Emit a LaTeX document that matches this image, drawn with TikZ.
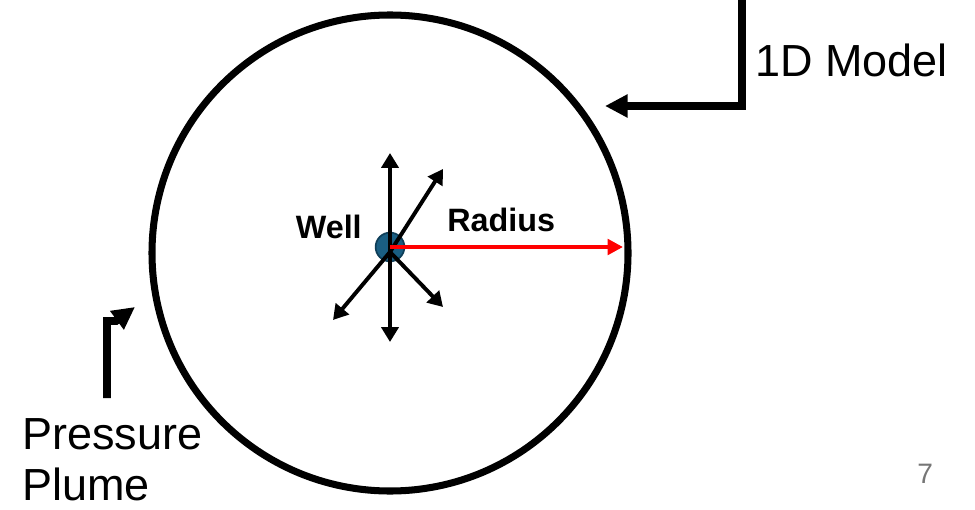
\documentclass[tikz,border=0pt]{standalone}
\usepackage{fontspec}
\setmainfont{Liberation Sans}
\usepackage{tikz}
\usetikzlibrary{arrows.meta, positioning}
\definecolor{wellblue}{RGB}{26, 94, 130}
\definecolor{welledge}{RGB}{14, 62, 88}
\definecolor{radiusred}{RGB}{255, 0, 0}
\definecolor{pagegray}{RGB}{118, 118, 118}

\begin{document}
\begin{tikzpicture}[
    plume/.style={circle, draw=black, line width=5pt, minimum size=11.9cm, inner sep=0pt},
    well/.style={circle, draw=welledge, fill=wellblue, line width=1.2pt, minimum size=0.72cm, inner sep=0pt},
    flow/.style={line width=2.8pt, -{Triangle[length=10.5pt, width=12pt]}},
    reach/.style={draw=radiusred, line width=2.8pt, -{Triangle[length=11pt, width=11pt]}},
    pointer/.style={line width=5.6pt, -{Triangle[length=16pt, width=15.5pt]}},
    caption/.style={font=\fontsize{32}{37}\selectfont, inner sep=0pt},
    tag/.style={font=\fontsize{23}{27}\selectfont\bfseries, inner sep=0pt},
]
    \useasboundingbox (0,0) rectangle (24.375,12.725);

    % Pressure plume outline
    \node[plume] (plume) at (9.75, 6.4) {};

    % Injection well and flow directions
    \node[well] (well) at (9.75, 6.55) {};
    \coordinate (hub) at (9.75, 6.425);
    \coordinate (tipn) at (9.75, 8.9);
    \coordinate (tips) at (9.75, 4.175);
    \coordinate (tipne) at (11.075, 8.5);
    \coordinate (tipse) at (11.075, 5.05);
    \coordinate (tipsw) at (8.325, 4.725);
    \draw[flow] (hub) -- (tipn);
    \draw[flow] (hub) -- (tips);
    \draw[flow] (hub) -- (tipne);
    \draw[flow] (hub) -- (tipse);
    \draw[flow] (hub) -- (tipsw);

    % Radius
    \coordinate (rim) at (15.575, 6.55);
    \draw[reach] (well.center) -- (rim);

    \node[tag, anchor=base east] (welltext) at (9.05, 6.775) {Well};
    \node[tag, anchor=base west] (radiustext) at (11.175, 6.95) {Radius};

    % 1D model callout
    \coordinate (modeltop) at (18.55, 12.85);
    \coordinate (modeltip) at (15.125, 10.075);
    \draw[pointer] (modeltop) |- (modeltip);
    \node[caption, anchor=base west] (model) at (18.875, 10.8) {1D Model};

    % Pressure plume callout
    \coordinate (plumefoot) at (2.675, 2.775);
    \coordinate (plumetip) at (3.375, 5.05);
    \draw[pointer] (plumefoot) -- (2.675, 4.7) -- (2.9, 4.7) -- (plumetip);
    \node[caption, anchor=base west] (pressure) at (0.55, 1.5) {Pressure};
    \node[caption, anchor=base west] (plumetext) at (0.55, 0.22) {Plume};

    \node[font=\fontsize{20}{24}\selectfont, text=pagegray, inner sep=0pt, anchor=base west] (page) at (22.925, 0.65) {7};
\end{tikzpicture}
\end{document}
